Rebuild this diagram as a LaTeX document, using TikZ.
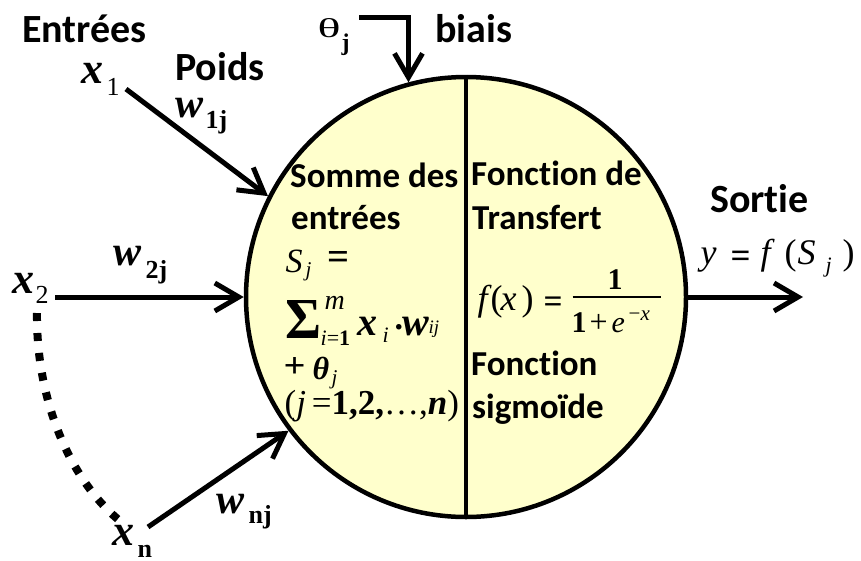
\documentclass[tikz,border=0pt]{standalone}
\usepackage{graphicx}
\usepackage{fontspec}
\setmainfont{Carlito}[Ligatures=NoCommon]
\newfontfamily\tms{Liberation Serif}
\usetikzlibrary{arrows.meta}
\newcommand\fsz[1]{\fontsize{#1}{#1}\selectfont}
\newcommand\putat[3]{\rlap{\kern#1pt\raisebox{#2pt}{#3}}}
\definecolor{cellfill}{HTML}{FFFFCC}
\tikzset{
  lbl/.style={inner sep=0pt, anchor=base west, font=\fsz{40}\bfseries},
  ilbl/.style={inner sep=0pt, anchor=base west, font=\fsz{35}\bfseries},
  frm/.style={inner sep=0pt, anchor=base west},
  arr/.style={line width=5pt, -{Straight Barb[length=24pt,width=28pt]}},
  dotline/.style={line width=8pt, dash pattern=on 8pt off 12pt},
  neuron/.style={circle, draw, fill=cellfill, line width=4.5pt, minimum size=440pt, inner sep=0pt}
}
\begin{document}
\begin{tikzpicture}[x=1pt,y=-1pt]
\useasboundingbox (0,0) rectangle (861,560);
% neuron
\node[neuron] (c) at (466,297) {};
\draw[line width=4.5pt] (c.north) -- (c.south);

% outer labels
\node[lbl] (entrees) at (22,42) {Entrées};
\node[lbl] (poids) at (175,80) {Poids};
\node[lbl] (biais) at (435,42) {biais};
\node[lbl] (sortie) at (710,212) {Sortie};

% inner labels
\node[ilbl] (somme) at (290,187) {Somme des};
\node[ilbl] (entr2) at (291,229) {entrées};
\node[ilbl] (fonc) at (471,185) {Fonction de};
\node[ilbl] (transf) at (472,229) {Transfert};
\node[ilbl] (fonc2) at (471,375) {Fonction};
\node[ilbl] (sigm) at (472,418) {sigmoïde};

% inputs and weights
\node[frm] (x1) at (82,83) {\putat{-1}{0}{\fsz{44}\tms\bfseries\itshape x}\putat{24}{-12}{\fsz{26}\tms 1}};
\node[frm] (w1) at (177,117) {\putat{-2}{0}{\fsz{42}\tms\bfseries\itshape w}\putat{28}{-11}{\fsz{26}\tms\bfseries 1j}};
\node[frm] (x2) at (13,293) {\putat{-1}{0}{\fsz{44}\tms\bfseries\itshape x}\putat{22}{-10}{\fsz{26}\tms 2}};
\node[frm] (w2) at (115,265) {\putat{-2}{0}{\fsz{42}\tms\bfseries\itshape w}\putat{30}{-13}{\fsz{26}\tms\bfseries 2j}};
\node[frm] (xn) at (113,545) {\putat{-1}{0}{\fsz{44}\tms\bfseries\itshape x}\putat{24}{-12}{\fsz{26}\tms\bfseries n}};
\node[frm] (wn) at (218,513) {\putat{-2}{0}{\fsz{42}\tms\bfseries\itshape w}\putat{30}{-10}{\fsz{26}\tms\bfseries nj}};
\node[frm] (thj) at (317,37) {\putat{0}{0}{\resizebox{23pt}{19pt}{\fsz{30}\tms θ}}\putat{24}{-13}{\fsz{24}\tms\bfseries j}};

% sum formula
\node[frm] (sj) at (285,272) {\putat{0}{0}{\fsz{34}\tms\itshape S}\putat{20}{-4}{\fsz{21}\tms\itshape j}\putat{42}{3}{\resizebox{22pt}{!}{\fsz{40}\tms\bfseries =}}};
\node[frm] (sum) at (285,338) {\putat{0}{0}{\resizebox{36pt}{38pt}{\fsz{56}\tms\bfseries Σ}}\putat{39}{29}{\fsz{28}\tms\itshape m}\putat{35}{-7}{\fsz{22}\tms{\itshape i}={\bfseries 1}}\putat{72}{3}{\fsz{40}\tms\bfseries\itshape x}\putat{97}{-4}{\fsz{22}\tms\itshape i}\putat{109}{9}{\fsz{34}\tms\bfseries .}\putat{117}{3}{\fsz{40}\tms\bfseries\itshape w}\putat{143}{5}{\fsz{19}\tms\itshape ij}};
\node[frm] (pth) at (283,377) {\putat{0}{0}{\resizebox{22pt}{20pt}{\fsz{40}\tms\bfseries +}}\putat{29}{-2}{\fsz{32}\tms\bfseries\itshape θ}\putat{48}{-7}{\fsz{21}\tms\itshape j}};
\node[frm] (jr) at (284,414) {\putat{0}{0}{\fsz{35}\tms ({\itshape j}\,={\bfseries 1,2,}…,{\bfseries\itshape n})}};

% sigmoid formula
\node[frm] (fx) at (475,310) {\putat{2}{0}{\fsz{36}\tms\itshape f}\putat{15}{0}{\fsz{36}\tms (}\putat{25}{0}{\fsz{36}\tms\itshape x}\putat{46}{0}{\fsz{36}\tms )}\putat{68}{-2}{\resizebox{19pt}{!}{\fsz{36}\tms\bfseries =}}\putat{97}{12}{\rule{88pt}{1.8pt}}\putat{132}{21}{\fsz{30}\tms\bfseries 1}\putat{96}{-22}{\fsz{30}\tms\bfseries 1}\putat{114}{-22}{\fsz{32}\tms +}\putat{136}{-22}{\fsz{30}\tms\itshape e}\putat{153}{-10}{\fsz{21}\tms −{\itshape x}}};

% output formula
\node[frm] (yf) at (700,264) {\putat{0}{0}{\fsz{36}\tms\itshape y}\putat{30}{-3}{\resizebox{20pt}{!}{\fsz{36}\tms\bfseries =}}\putat{60}{0}{\fsz{36}\tms\itshape f}\putat{84}{0}{\fsz{36}\tms (}\putat{97}{0}{\fsz{36}\tms\itshape S}\putat{125}{-8}{\fsz{22}\tms\itshape j}\putat{142}{0}{\fsz{36}\tms )}};

% connectors
\coordinate (s1) at (126,89);
\coordinate (s2) at (55,297);
\coordinate (sn) at (148,527);
\coordinate (out) at (803,297);
\coordinate (b0) at (359,17);
\coordinate (d1) at (37,313);
\coordinate (d2) at (120,521);
\draw[arr] (s1) -- (c.153);
\draw[arr] (s2) -- (c.180);
\draw[arr] (sn) -- (c.217);
\draw[arr] (c.0) -- (out);
\draw[arr] (b0) -| (c.105);
\draw[dotline] (d1) .. controls (36,400) and (70,480) .. (d2);
\end{tikzpicture}
\end{document}
